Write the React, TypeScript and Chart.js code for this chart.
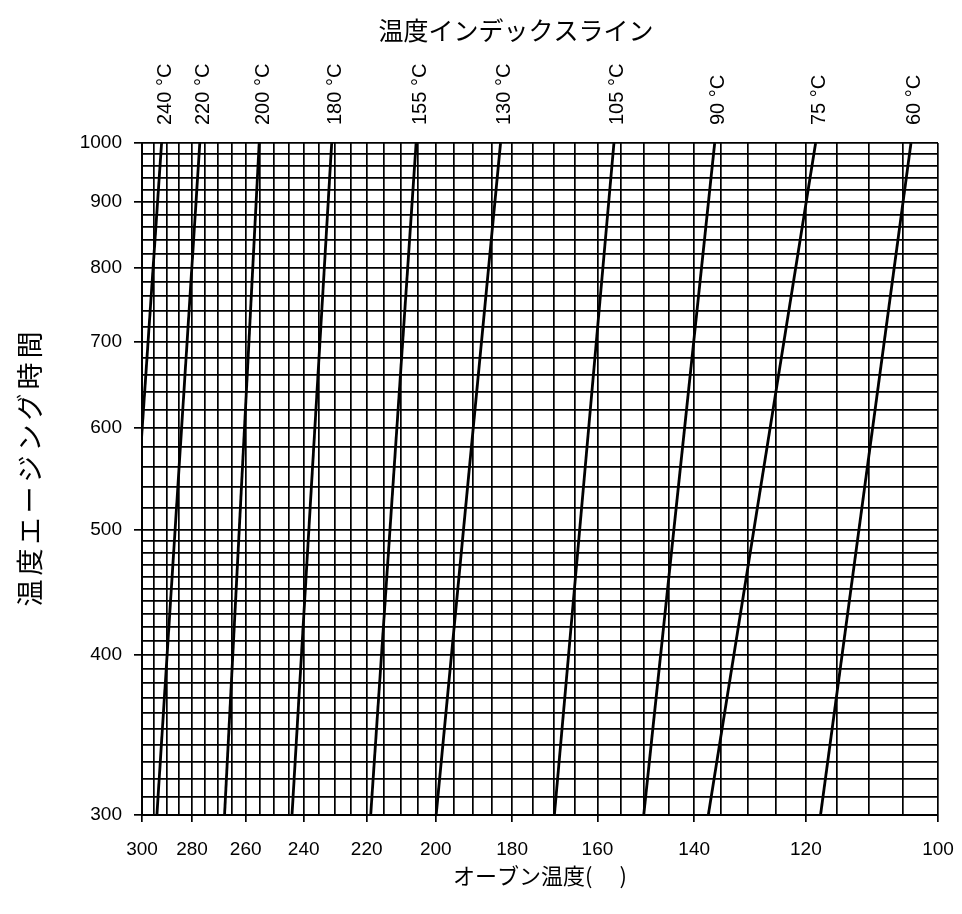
import React, { useEffect, useRef } from "react";
import { Chart, registerables } from "chart.js";

Chart.register(...registerables);

// Temperature index lines (labels shown above the plot)
const lineLabels = ["240 °C", "220 °C", "200 °C", "180 °C", "155 °C", "130 °C", "105 °C", "90 °C", "75 °C", "60 °C"];
// Oven temperature (°C) where each line crosses 1000 h (top) and 300 h (bottom)
const topTemps = [292.0, 277.0, 255.2, 230.9, 205.5, 182.9, 156.4, 136.1, 118.4, 103.8];
const bottomTemps = [311.0, 293.9, 267.7, 243.9, 218.8, 199.9, 169.8, 150.1, 137.3, 117.6];
// Aging hours at the two ends of each line
const endHours = [1000, 300];

// Axis tick labels
const xTickLabels = [300, 280, 260, 240, 220, 200, 180, 160, 140, 120, 100];
const yTickLabels = [300, 400, 500, 600, 700, 800, 900, 1000];

const topTitle = "温度インデックスライン";
const yTitle = "温度エージング時間";
const xTitle = "オーブン温度(　 )";

const range = (a: number, b: number, s: number) => {
  const r: number[] = [];
  for (let v = a; v <= b + 1e-9; v += s) r.push(Math.round(v * 100) / 100);
  return r;
};
// graph-paper grid
const xGrid = range(100, 300, 5);
const yGrid = [...range(300, 500, 10), ...range(520, 1000, 20)];

const NUM_FONT = "'Liberation Sans', Arial, sans-serif";
const JP_FONT = "'Noto Sans CJK JP', 'Noto Sans', sans-serif";

const W = 954;
const H = 898;

const titlesPlugin = {
  id: "titlesAndTopLabels",
  afterDraw(chart: any) {
    const { ctx, chartArea, scales } = chart;
    const xs = scales.x;
    ctx.save();
    ctx.fillStyle = "#000";
    // labels of the index lines, above the plot
    ctx.font = `20px ${NUM_FONT}`;
    ctx.textAlign = "left";
    ctx.textBaseline = "middle";
    lineLabels.forEach((lab, i) => {
      const px = xs.getPixelForValue(topTemps[i]);
      ctx.save();
      ctx.translate(px + 4, chartArea.top - 18);
      ctx.rotate(-Math.PI / 2);
      ctx.fillText(lab, 0, 0);
      ctx.restore();
    });
    // top title
    ctx.font = `25px ${JP_FONT}`;
    ctx.textAlign = "center";
    ctx.fillText(topTitle, chartArea.left + (chartArea.right - chartArea.left) * 0.47, 22);
    // left (y) title with wide letter spacing
    ctx.font = `27px ${JP_FONT}`;
    try {
      (ctx as any).letterSpacing = "4px";
    } catch (e) {}
    ctx.save();
    ctx.translate(22, (chartArea.top + chartArea.bottom) / 2 - 10);
    ctx.rotate(-Math.PI / 2);
    ctx.textAlign = "center";
    ctx.fillText(yTitle, 2, 0);
    ctx.restore();
    ctx.restore();
  },
};

export default function App() {
  const ref = useRef<HTMLCanvasElement>(null);

  useEffect(() => {
    if (!ref.current) return;
    const datasets = lineLabels.map((lab, i) => ({
      label: lab,
      data: [
        { x: topTemps[i], y: endHours[0] },
        { x: bottomTemps[i], y: endHours[1] },
      ],
      showLine: true,
      borderColor: "#000",
      borderWidth: 2.8,
      pointRadius: 0,
      clip: 0,
    }));

    const chart = new Chart(ref.current, {
      type: "scatter",
      data: { datasets },
      plugins: [titlesPlugin],
      options: {
        animation: false,
        responsive: false,
        layout: { padding: { top: 135, right: 24, left: 0, bottom: 0 } },
        plugins: {
          legend: { display: false },
          tooltip: { enabled: false },
          title: { display: false },
        },
        scales: {
          x: {
            type: "logarithmic",
            reverse: true,
            min: 100,
            max: 300,
            afterBuildTicks: (scale: any) => {
              scale.ticks = xGrid.map((v) => ({ value: v }));
            },
            afterFit: (scale: any) => {
              scale.height = 91;
              scale.paddingLeft = 0;
              scale.paddingRight = 0;
            },
            ticks: {
              autoSkip: false,
              maxRotation: 0,
              minRotation: 0,
              padding: 16,
              color: "#000",
              font: { family: NUM_FONT, size: 19 },
              callback: (v: any) => (xTickLabels.includes(Number(v)) ? String(v) : ""),
            },
            grid: {
              color: "#000",
              lineWidth: 1.7,
              tickLength: 7,
              tickColor: (c: any) =>
                c.tick && xTickLabels.includes(c.tick.value) ? "#000" : "rgba(0,0,0,0)",
            },
            border: { color: "#000", width: 2 },
            title: {
              display: true,
              text: xTitle,
              color: "#000",
              font: { family: JP_FONT, size: 22 },
              padding: { bottom: 17, top: 0 },
            },
          },
          y: {
            type: "logarithmic",
            min: 300,
            max: 1000,
            afterBuildTicks: (scale: any) => {
              scale.ticks = yGrid.map((v) => ({ value: v }));
            },
            afterFit: (scale: any) => {
              scale.width = 134;
              scale.paddingTop = 0;
              scale.paddingBottom = 0;
            },
            ticks: {
              autoSkip: false,
              padding: 12,
              color: "#000",
              font: { family: NUM_FONT, size: 19 },
              callback: (v: any) => (yTickLabels.includes(Number(v)) ? String(v) : ""),
            },
            grid: {
              color: "#000",
              lineWidth: 1.7,
              tickLength: 8,
              tickColor: (c: any) =>
                c.tick && yTickLabels.includes(c.tick.value) ? "#000" : "rgba(0,0,0,0)",
            },
            border: { color: "#000", width: 2 },
            title: { display: false },
          },
        },
      },
    });
    return () => chart.destroy();
  }, []);

  return (
    <div style={{ width: W, height: H }}>
      <canvas ref={ref} width={W} height={H} style={{ display: "block", width: W, height: H }} />
    </div>
  );
}
